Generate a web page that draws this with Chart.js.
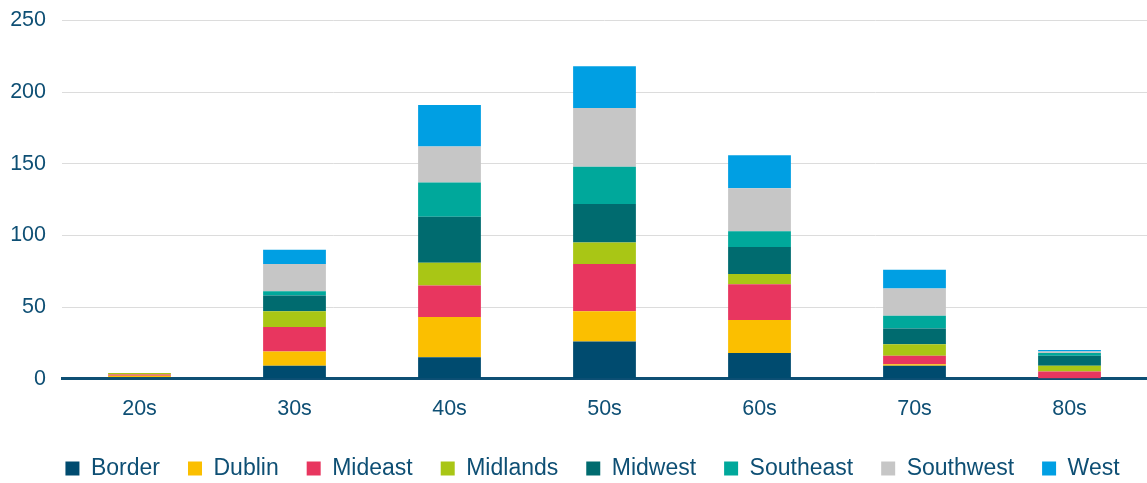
<!DOCTYPE html>
<html>
<head>
<meta charset="utf-8">
<script src="https://cdn.jsdelivr.net/npm/chart.js@4.4.1/dist/chart.umd.min.js"></script>
<style>
  html, body { margin: 0; padding: 0; background: #fff; }
  #wrap { width: 1147px; height: 483px; position: relative; }
</style>
</head>
<body>
<div id="wrap"><canvas id="chart"></canvas></div>
<script>
const categories = ["20s", "30s", "40s", "50s", "60s", "70s", "80s"];

const border    = [1, 9, 15, 26, 18, 9, 0];
const dublin    = [1, 10, 28, 21, 23, 1, 0];
const mideast   = [1, 17, 22, 33, 25, 6, 5];
const midlands  = [1, 11, 16, 15, 7, 8, 4];
const midwest   = [0, 11, 32, 27, 19, 11, 7];
const southeast = [0, 3, 24, 26, 11, 9, 2];
const southwest = [0, 19, 25, 41, 30, 19, 1];
const west      = [0, 10, 29, 29, 23, 13, 1];

const yTicks = [0, 50, 100, 150, 200, 250];

const textColor = "#0e4f74";
const fontFamily = "Liberation Sans, Arial, sans-serif";

const series = [
  { label: "Border", data: border, color: "#004b6f" },
  { label: "Dublin", data: dublin, color: "#fbbf00" },
  { label: "Mideast", data: mideast, color: "#e8365f" },
  { label: "Midlands", data: midlands, color: "#a9c615" },
  { label: "Midwest", data: midwest, color: "#006b6f" },
  { label: "Southeast", data: southeast, color: "#00a89b" },
  { label: "Southwest", data: southwest, color: "#c6c6c6" },
  { label: "West", data: west, color: "#009fe3" },
];

// nudge the legend a bit to the right, like the original
const legendShift = {
  id: "legendShift",
  afterLayout(chart) {
    if (chart.legend) {
      chart.legend.left += 19;
      chart.legend.right += 19;
    }
  },
};

const ctx = document.getElementById("chart").getContext("2d");
new Chart(ctx, {
  type: "bar",
  data: {
    labels: categories,
    datasets: series.map(s => ({
      label: s.label,
      data: s.data,
      backgroundColor: s.color,
      borderWidth: 0,
      barPercentage: 0.405,
      categoryPercentage: 1.0,
    })),
  },
  plugins: [legendShift],
  options: {
    responsive: true,
    maintainAspectRatio: false,
    animation: false,
    layout: { padding: { top: 0, right: 0, left: 0, bottom: -7 } },
    plugins: {
      legend: {
        position: "bottom",
        labels: {
          color: textColor,
          font: { family: fontFamily, size: 23 },
          boxWidth: 14,
          boxHeight: 14,
          padding: 28,
        },
      },
      tooltip: { enabled: false },
    },
    scales: {
      x: {
        stacked: true,
        grid: { display: false },
        border: { display: true, color: "#0e4f74", width: 3 },
        ticks: {
          color: textColor,
          font: { family: fontFamily, size: 21.5 },
          padding: 9.5,
        },
        afterFit: axis => { axis.height -= 2.5; },
      },
      y: {
        stacked: true,
        min: 0,
        max: 250,
        afterBuildTicks: axis => { axis.ticks = yTicks.map(v => ({ value: v })); },
        afterFit: axis => { axis.width = 62; },
        grid: { color: "#dcdcdc", lineWidth: 1, drawTicks: false },
        border: { display: false },
        ticks: {
          color: textColor,
          font: { family: fontFamily, size: 21.5, lineHeight: 0.42 },
          padding: 16,
        },
      },
    },
  },
});
</script>
</body>
</html>
